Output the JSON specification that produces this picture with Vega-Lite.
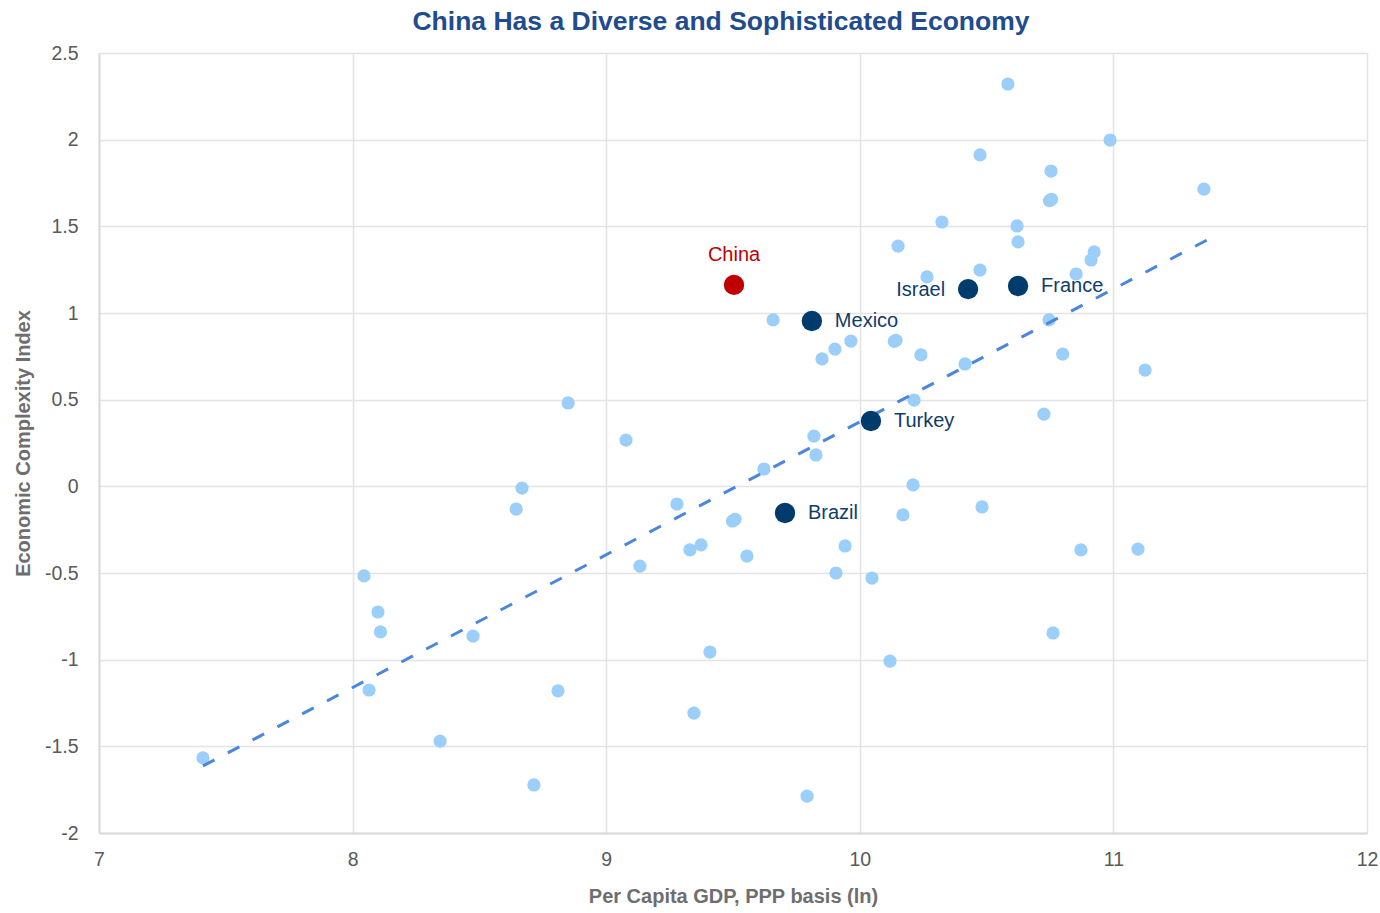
{
  "$schema": "https://vega.github.io/schema/vega-lite/v6.json",
  "width": 1268,
  "height": 780,
  "autosize": {"type": "none"},
  "padding": {"left": 99, "top": 53, "right": 13, "bottom": 80},
  "background": "white",
  "title": {
    "text": "China Has a Diverse and Sophisticated Economy",
    "font": "Liberation Sans",
    "fontSize": 26.5,
    "fontWeight": "bold",
    "color": "#1F4B8F",
    "anchor": "middle",
    "dx": -12,
    "offset": 8
  },
  "config": {
    "view": {"stroke": null},
    "font": "Liberation Sans",
    "axis": {
      "grid": true,
      "gridColor": "#E3E3E3",
      "gridWidth": 1.5,
      "domainColor": "#D9D9D9",
      "domainWidth": 2,
      "ticks": false,
      "tickSize": 0,
      "labelFlush": false,
      "labelFont": "Liberation Sans",
      "labelFontSize": 19.5,
      "labelColor": "#595959",
      "labelExpr": "datum.value + ''",
      "titleFont": "Liberation Sans",
      "titleFontSize": 20,
      "titleFontWeight": "bold",
      "titleColor": "#6E6E6E"
    }
  },
  "datasets": {
    "others": [
      {"gdp": 7.41, "eci": -1.567},
      {"gdp": 8.045, "eci": -0.517},
      {"gdp": 8.10, "eci": -0.725},
      {"gdp": 8.11, "eci": -0.84},
      {"gdp": 8.065, "eci": -1.175},
      {"gdp": 8.345, "eci": -1.47},
      {"gdp": 8.475, "eci": -0.864},
      {"gdp": 8.715, "eci": -1.723},
      {"gdp": 8.81, "eci": -1.18},
      {"gdp": 8.645, "eci": -0.131},
      {"gdp": 8.668, "eci": -0.01},
      {"gdp": 8.85, "eci": 0.481},
      {"gdp": 9.078, "eci": 0.267},
      {"gdp": 9.133, "eci": -0.46},
      {"gdp": 9.279, "eci": -0.102},
      {"gdp": 9.33, "eci": -0.367},
      {"gdp": 9.374, "eci": -0.338},
      {"gdp": 9.346, "eci": -1.308},
      {"gdp": 9.409, "eci": -0.956},
      {"gdp": 9.498, "eci": -0.2},
      {"gdp": 9.508, "eci": -0.19},
      {"gdp": 9.555, "eci": -0.402},
      {"gdp": 9.622, "eci": 0.10},
      {"gdp": 9.658, "eci": 0.96},
      {"gdp": 9.819, "eci": 0.29},
      {"gdp": 9.827, "eci": 0.181},
      {"gdp": 9.851, "eci": 0.735},
      {"gdp": 9.902, "eci": 0.792},
      {"gdp": 9.965, "eci": 0.838},
      {"gdp": 9.942, "eci": -0.344},
      {"gdp": 9.906, "eci": -0.50},
      {"gdp": 9.792, "eci": -1.787},
      {"gdp": 10.048, "eci": -0.529},
      {"gdp": 10.119, "eci": -1.008},
      {"gdp": 10.136, "eci": 0.836},
      {"gdp": 10.143, "eci": 0.842},
      {"gdp": 10.151, "eci": 1.386},
      {"gdp": 10.241, "eci": 0.758},
      {"gdp": 10.214, "eci": 0.498},
      {"gdp": 10.21, "eci": 0.008},
      {"gdp": 10.17, "eci": -0.165},
      {"gdp": 10.265, "eci": 1.208},
      {"gdp": 10.324, "eci": 1.525},
      {"gdp": 10.415, "eci": 0.706},
      {"gdp": 10.474, "eci": 1.912},
      {"gdp": 10.474, "eci": 1.248},
      {"gdp": 10.482, "eci": -0.119},
      {"gdp": 10.584, "eci": 2.321},
      {"gdp": 10.62, "eci": 1.502},
      {"gdp": 10.624, "eci": 1.41},
      {"gdp": 10.726, "eci": 0.417},
      {"gdp": 10.746, "eci": 0.96},
      {"gdp": 10.754, "eci": 1.819},
      {"gdp": 10.748, "eci": 1.648},
      {"gdp": 10.756, "eci": 1.656},
      {"gdp": 10.80, "eci": 0.763},
      {"gdp": 10.762, "eci": -0.846},
      {"gdp": 10.872, "eci": -0.367},
      {"gdp": 10.853, "eci": 1.225},
      {"gdp": 10.912, "eci": 1.306},
      {"gdp": 10.924, "eci": 1.352},
      {"gdp": 10.987, "eci": 1.998},
      {"gdp": 11.125, "eci": 0.671},
      {"gdp": 11.097, "eci": -0.362},
      {"gdp": 11.357, "eci": 1.715}
    ],
    "highlighted": [
      {"country": "China", "gdp": 9.504, "eci": 1.162},
      {"country": "Mexico", "gdp": 9.811, "eci": 0.954},
      {"country": "Israel", "gdp": 10.427, "eci": 1.138},
      {"country": "France", "gdp": 10.624, "eci": 1.156},
      {"country": "Turkey", "gdp": 10.044, "eci": 0.377},
      {"country": "Brazil", "gdp": 9.705, "eci": -0.154}
    ],
    "trend": [
      {"gdp": 7.41, "eci": -1.613},
      {"gdp": 11.369, "eci": 1.421}
    ]
  },
  "encoding": {
    "x": {
      "field": "gdp",
      "type": "quantitative",
      "scale": {"domain": [7, 12], "nice": false, "zero": false},
      "axis": {
        "title": "Per Capita GDP, PPP basis (ln)",
        "values": [7, 8, 9, 10, 11, 12],
        "labelPadding": 17,
        "titlePadding": 18
      }
    },
    "y": {
      "field": "eci",
      "type": "quantitative",
      "scale": {"domain": [-2, 2.5], "nice": false, "zero": false},
      "axis": {
        "title": "Economic Complexity Index",
        "values": [-2, -1.5, -1, -0.5, 0, 0.5, 1, 1.5, 2, 2.5],
        "labelPadding": 21,
        "titlePadding": 11
      }
    }
  },
  "layer": [
    {
      "data": {"name": "others"},
      "mark": {"type": "circle", "size": 175, "color": "#9CCEFA", "opacity": 1}
    },
    {
      "data": {"name": "trend"},
      "mark": {"type": "line", "color": "#4A86E0", "strokeWidth": 3, "strokeDash": [13, 15]}
    },
    {
      "data": {"name": "highlighted"},
      "mark": {"type": "circle", "size": 415, "opacity": 1},
      "encoding": {
        "color": {
          "condition": {"test": "datum.country === 'China'", "value": "#C00000"},
          "value": "#003B6D"
        }
      }
    },
    {
      "data": {"name": "highlighted"},
      "transform": [{"filter": "datum.country === 'China'"}],
      "mark": {"type": "text", "fontSize": 20, "color": "#C00000", "align": "center", "baseline": "middle", "dy": -30},
      "encoding": {"text": {"field": "country"}}
    },
    {
      "data": {"name": "highlighted"},
      "transform": [{"filter": "datum.country === 'Israel'"}],
      "mark": {"type": "text", "fontSize": 20, "color": "#0E3C6C", "align": "right", "baseline": "middle", "dx": -23, "dy": 1},
      "encoding": {"text": {"field": "country"}}
    },
    {
      "data": {"name": "highlighted"},
      "transform": [{"filter": "datum.country !== 'China' && datum.country !== 'Israel'"}],
      "mark": {"type": "text", "fontSize": 20, "color": "#0E3C6C", "align": "left", "baseline": "middle", "dx": 23},
      "encoding": {"text": {"field": "country"}}
    }
  ]
}
